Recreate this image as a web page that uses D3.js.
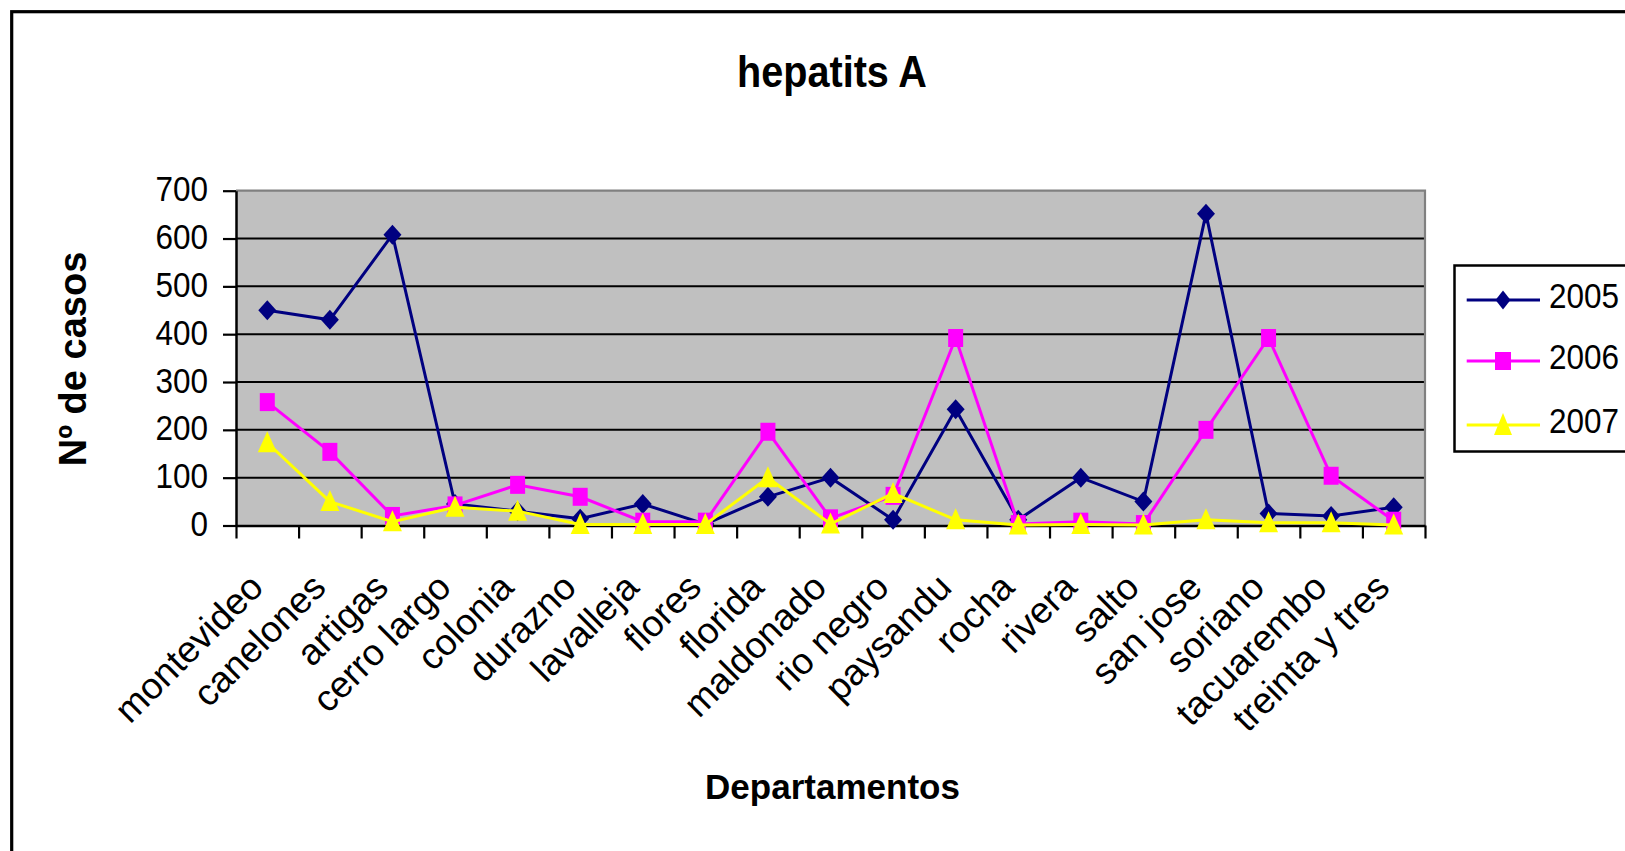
<!DOCTYPE html>
<html>
<head>
<meta charset="utf-8">
<script src="https://cdn.jsdelivr.net/npm/d3@7"></script>
<style>
  html, body { margin: 0; padding: 0; background: #fff; overflow: hidden; }
  text { font-family: "Liberation Sans", Arial, sans-serif; }
</style>
</head>
<body>
<div id="chart"></div>
<script>
// Données : cas d'hépatite A par département
const departamentos = ['montevideo', 'canelones', 'artigas', 'cerro largo', 'colonia', 'durazno',
  'lavalleja', 'flores', 'florida', 'maldonado', 'rio negro', 'paysandu', 'rocha', 'rivera',
  'salto', 'san jose', 'soriano', 'tacuarembo', 'treinta y tres'];
const casos2005 = [450, 430, 608, 45, 30, 14, 45, 3, 60, 100, 12, 243, 12, 100, 50, 652, 25, 20, 38];
const casos2006 = [258, 154, 20, 42, 85, 60, 8, 8, 196, 15, 62, 392, 3, 8, 3, 200, 392, 104, 10];
const casos2007 = [173, 50, 8, 38, 30, 2, 2, 2, 100, 3, 67, 12, 1, 2, 1, 12, 6, 6, 1];
const anios = ['2005', '2006', '2007'];
const yTicks = [0, 100, 200, 300, 400, 500, 600, 700];

const series = [
  { name: anios[0], values: casos2005, color: '#000080', shape: 'diamond' },
  { name: anios[1], values: casos2006, color: '#FF00FF', shape: 'square' },
  { name: anios[2], values: casos2007, color: '#FFFF00', shape: 'triangle' }
];

const svgWidth = 1625, svgHeight = 851;
const plot = { left: 236, right: 1425, top: 190.7, bottom: 525.5 };

const svg = d3.select('#chart')
  .append('svg')
  .attr('width', svgWidth)
  .attr('height', svgHeight);

// cadre extérieur (dépasse la fenêtre à droite et en bas)
svg.append('rect')
  .attr('x', 11.7).attr('y', 11.7)
  .attr('width', 1700).attr('height', 900)
  .attr('fill', '#fff')
  .attr('stroke', '#000')
  .attr('stroke-width', 3.2);

// échelles
const x = d3.scaleBand()
  .domain(departamentos)
  .range([plot.left, plot.right])
  .padding(0);
const xi = d3.scaleLinear()
  .domain([0, departamentos.length])
  .range([plot.left, plot.right]);
const y = d3.scaleLinear()
  .domain([0, 700])
  .range([plot.bottom, plot.top]);
const cx = d => x(d) + x.bandwidth() / 2;

// fond gris
svg.append('rect')
  .attr('x', plot.left).attr('y', plot.top)
  .attr('width', plot.right - plot.left)
  .attr('height', plot.bottom - plot.top)
  .attr('fill', '#C0C0C0');

// lignes de grille
svg.append('g')
  .selectAll('line')
  .data(yTicks.filter(v => v > 0 && v < 700))
  .join('line')
  .attr('x1', plot.left).attr('x2', plot.right)
  .attr('y1', d => y(d)).attr('y2', d => y(d))
  .attr('stroke', '#000')
  .attr('stroke-width', 2);

// bord gris haut et droite
svg.append('path')
  .attr('d', `M${plot.left},${y(700)} H${plot.right} V${plot.bottom}`)
  .attr('fill', 'none')
  .attr('stroke', '#808080')
  .attr('stroke-width', 2.2);

// axe Y
const yAxis = svg.append('g')
  .attr('transform', `translate(${plot.left},0)`)
  .call(d3.axisLeft(y).tickValues(yTicks).tickSize(13).tickSizeOuter(0));
yAxis.select('.domain').attr('stroke', '#000').attr('stroke-width', 2.5);
yAxis.selectAll('.tick line').attr('stroke', '#000').attr('stroke-width', 2.2);
yAxis.selectAll('.tick text')
  .attr('x', null).attr('dy', null)
  .attr('transform', 'translate(-28,-2) scale(0.9,1)')
  .attr('dominant-baseline', 'central')
  .style('font-size', '35px')
  .attr('fill', '#000');

// axe X (traits entre les catégories)
const xAxis = svg.append('g')
  .attr('transform', `translate(0,${plot.bottom})`)
  .call(d3.axisBottom(xi).tickValues(d3.range(departamentos.length + 1)).tickSize(13).tickSizeOuter(0).tickFormat(''));
xAxis.select('.domain').attr('stroke', '#000').attr('stroke-width', 2.5);
xAxis.selectAll('.tick line').attr('stroke', '#000').attr('stroke-width', 2.2);

// étiquettes X inclinées
svg.append('g')
  .selectAll('text')
  .data(departamentos)
  .join('text')
  .attr('transform', d => `translate(${cx(d) - 2},${plot.bottom + 64}) rotate(-45)`)
  .attr('text-anchor', 'end')
  .style('font-size', '37px')
  .text(d => d);

// formes des marqueurs (plus hautes que larges)
function markerPath(shape, w, h) {
  if (shape === 'diamond') return `M0,${-h / 2} L${w / 2},0 L0,${h / 2} L${-w / 2},0 Z`;
  if (shape === 'square') return `M${-w / 2},${-h / 2} H${w / 2} V${h / 2} H${-w / 2} Z`;
  return `M0,${-h / 2 - 1} L${w / 2},${h / 2 - 1} L${-w / 2},${h / 2 - 1} Z`;
}
const markerSize = { diamond: [18, 20], square: [15, 18], triangle: [19, 21] };

const line = d3.line()
  .x((d, i) => cx(departamentos[i]))
  .y(d => y(d));

series.forEach(s => {
  const g = svg.append('g');
  g.append('path')
    .attr('d', line(s.values))
    .attr('fill', 'none')
    .attr('stroke', s.color)
    .attr('stroke-width', 3);
  g.selectAll('path.mk')
    .data(s.values)
    .join('path')
    .attr('class', 'mk')
    .attr('transform', (d, i) => `translate(${cx(departamentos[i])},${y(d)})`)
    .attr('d', markerPath(s.shape, ...markerSize[s.shape]))
    .attr('fill', s.color);
});

// titre
svg.append('text')
  .attr('transform', 'translate(832,86.7) scale(0.9,1)')
  .attr('text-anchor', 'middle')
  .style('font-size', '44px')
  .style('font-weight', 'bold')
  .text('hepatits A');

// titre axe X
svg.append('text')
  .attr('x', 832.5).attr('y', 799.3)
  .attr('text-anchor', 'middle')
  .style('font-size', '35px')
  .style('font-weight', 'bold')
  .text('Departamentos');

// titre axe Y
svg.append('text')
  .attr('transform', 'translate(86,359) rotate(-90)')
  .attr('text-anchor', 'middle')
  .style('font-size', '38px')
  .style('font-weight', 'bold')
  .text('Nº de casos');

// légende
const legend = svg.append('g');
legend.append('rect')
  .attr('x', 1454.5).attr('y', 265.5)
  .attr('width', 300).attr('height', 186)
  .attr('fill', '#fff')
  .attr('stroke', '#000')
  .attr('stroke-width', 2.5);
const legendRows = [300, 361, 425];
const legendMarker = { diamond: [15, 19], square: [16, 18], triangle: [18, 22] };
series.forEach((s, i) => {
  const ly = legendRows[i];
  legend.append('line')
    .attr('x1', 1466.7).attr('x2', 1540)
    .attr('y1', ly).attr('y2', ly)
    .attr('stroke', s.color)
    .attr('stroke-width', 3);
  legend.append('path')
    .attr('transform', `translate(1503,${ly})`)
    .attr('d', markerPath(s.shape, ...legendMarker[s.shape]))
    .attr('fill', s.color);
  legend.append('text')
    .attr('transform', `translate(1549,${ly + 7.5}) scale(0.9,1)`)
    .style('font-size', '35px')
    .text(s.name);
});
</script>
</body>
</html>
